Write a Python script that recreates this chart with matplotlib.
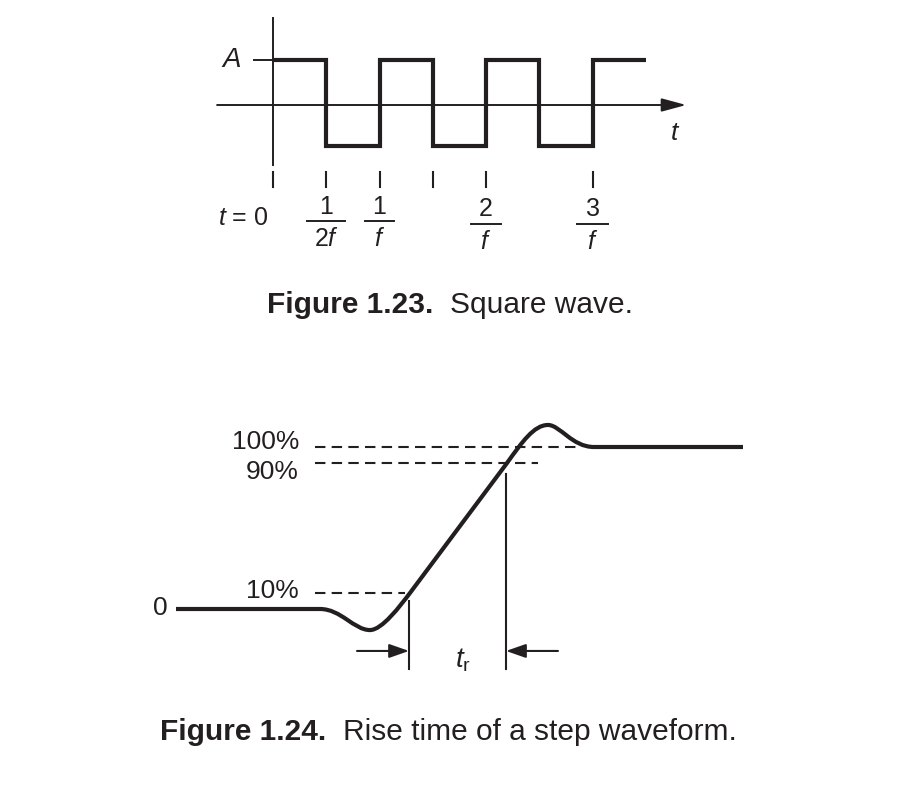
import matplotlib
matplotlib.use("Agg")
import matplotlib.pyplot as plt
from matplotlib.path import Path
from matplotlib.patches import PathPatch

plt.rcParams['font.family'] = ['Liberation Sans', 'DejaVu Sans']
plt.rcParams['mathtext.fontset'] = 'custom'
plt.rcParams['mathtext.rm'] = 'Liberation Sans'
plt.rcParams['mathtext.it'] = 'Liberation Sans:italic'
plt.rcParams['lines.scale_dashes'] = False

ink = '#231f20'

# ---- Figure 1.23: square wave (time in units of 1/f, level in units of A)
sq_edges = [0, 0.5, 1.0, 1.5, 2.0, 2.5, 3.0, 3.5]
sq_levels = [1, -0.91, 1, -0.91, 1, -0.91, 1]
tick_times = [0, 0.5, 1.0, 1.5, 2.0, 3.0]
frac_times = [0.5, 1.0, 2.0, 3.0]
frac_num = ['1', '1', '2', '3']
frac_den = [r'$\mathrm{2}f$', r'$f$', r'$f$', r'$f$']
frac_bar_level = [-2.58, -2.58, -2.64, -2.64]
frac_bar_half = [0.18, 0.14, 0.145, 0.145]

# ---- Figure 1.24: step response (time in arbitrary units, level in %)
# anchor and bezier control points of the waveform
step_t = [0.0, 14.4, 16.5, 17.8, 19.4, 20.6, 22.4, 23.4, 33.1,
          34.6, 35.8, 37.2, 38.4, 39.6, 41.8, 56.7]
step_level = [0, 0, 0, -13.0, -13.0, -13.0, 1.8, 9.9, 90.1,
              103.0, 113.6, 113.6, 113.6, 100, 100, 100]
step_codes = [Path.MOVETO, Path.LINETO, Path.CURVE4, Path.CURVE4, Path.CURVE4,
              Path.CURVE4, Path.CURVE4, Path.CURVE4, Path.LINETO,
              Path.CURVE4, Path.CURVE4, Path.CURVE4, Path.CURVE4, Path.CURVE4,
              Path.CURVE4, Path.LINETO]
ref_levels = [100, 90, 10]
ref_labels = ['100%', '90%', '10%']
ref_ends = [40.4, 36.2, 22.9]
ref_label_levels = [103.1, 84.6, 11.1]
t10, t90 = 23.3, 33.0

fig = plt.figure(figsize=(9, 7.92), dpi=100)

# top diagram
ax = fig.add_axes([0, 0, 1, 1])
ax.axis('off')
ax.set_xlim(-273 / 106.5, 627 / 106.5)
ax.set_ylim((105 - 792) / 45, 105 / 45)

ax.stairs(sq_levels, sq_edges, baseline=None, color=ink, lw=3, joinstyle='miter')
ax.plot([0, 0], [1.93, -1.33], color=ink, lw=1.4)
ax.annotate('', xy=(3.88, 0), xytext=(-0.525, 0),
            arrowprops=dict(arrowstyle='-|>,head_length=1.0,head_width=0.27',
                            mutation_scale=15, lw=1.4, color=ink,
                            shrinkA=0, shrinkB=0))
ax.plot([-0.18, 0], [1, 1], color=ink, lw=1.4)
ax.text(-0.39, 1.0, 'A', style='italic', fontsize=20, color=ink,
        ha='center', va='center')
ax.text(3.77, -0.62, 't', style='italic', fontsize=19, color=ink,
        ha='center', va='center')
for tt in tick_times:
    ax.plot([tt, tt], [-1.49, -1.82], color=ink, lw=1.5)
ax.text(-0.28, -2.51, r'$t$ = 0', fontsize=18, color=ink, ha='center', va='center')
for tt, num, den, lev, hw in zip(frac_times, frac_num, frac_den,
                                 frac_bar_level, frac_bar_half):
    ax.plot([tt - hw, tt + hw], [lev, lev], color=ink, lw=1.4)
    ax.text(tt, lev + 0.32, num, fontsize=18, color=ink, ha='center', va='center')
    ax.text(tt, lev - 0.4, den, fontsize=18, color=ink, ha='center', va='center')

# bottom diagram
bx = fig.add_axes([0, 0, 1, 1])
bx.axis('off')
bx.patch.set_alpha(0)
bx.set_xlim(-17.6, 72.4)
bx.set_ylim((609 - 792) / 1.62, 609 / 1.62)

for lev, end in zip(ref_levels, ref_ends):
    bx.plot([13.9, end], [lev, lev], color=ink, lw=1.5, dashes=(7.5, 4.5))
for lab, lev in zip(ref_labels, ref_label_levels):
    bx.text(12.3, lev, lab, fontsize=19, color=ink, ha='right', va='center')
bx.text(-0.8, 0.6, '0', fontsize=19, color=ink, ha='right', va='center')
step_path = Path(list(zip(step_t, step_level)), step_codes)
bx.add_patch(PathPatch(step_path, fill=False, edgecolor=ink, lw=3,
                       capstyle='butt', joinstyle='round'))

bx.plot([t10, t10], [4.9, -37], color=ink, lw=1.5)
bx.plot([t90, t90], [83.3, -37], color=ink, lw=1.5)
arrow_style = dict(arrowstyle='-|>,head_length=0.8,head_width=0.28',
                   mutation_scale=15, lw=1.5, color=ink, shrinkA=0, shrinkB=0)
bx.annotate('', xy=(t10, -25.9), xytext=(18.1, -25.9), arrowprops=arrow_style)
bx.annotate('', xy=(t90, -25.9), xytext=(38.2, -25.9), arrowprops=arrow_style)
bx.text(28.7, -31.5, r'$t_{\mathrm{r}}$', fontsize=20, color=ink,
        ha='center', va='center')

# captions
fig.text(267 / 900, 1 - 305 / 792, 'Figure 1.23.', fontsize=21.5, weight='bold',
         color=ink, ha='left', va='center')
fig.text(450 / 900, 1 - 305 / 792, 'Square wave.', fontsize=21.5,
         color=ink, ha='left', va='center')
fig.text(160 / 900, 1 - 732 / 792, 'Figure 1.24.', fontsize=21.5, weight='bold',
         color=ink, ha='left', va='center')
fig.text(343 / 900, 1 - 732 / 792, 'Rise time of a step waveform.', fontsize=21.5,
         color=ink, ha='left', va='center')

fig.savefig('out.png', dpi=100)
